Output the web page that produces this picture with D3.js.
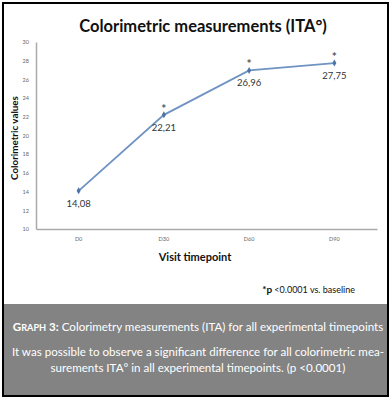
<!DOCTYPE html>
<html><head><meta charset="utf-8">
<script src="https://cdn.jsdelivr.net/npm/d3@7"></script>
<style>body{margin:0;background:#fff}svg{display:block}</style>
</head><body>
<svg id="c" width="392" height="397"></svg>
<script>
const categories = ["D0", "D30", "D60", "D90"];
const values = [14.08, 22.21, 26.96, 27.75];
const valueLabels = ["14,08", "22,21", "26,96", "27,75"];
const significant = [false, true, true, true];
const yTicks = [10, 12, 14, 16, 18, 20, 22, 24, 26, 28, 30];
const title = "Colorimetric measurements (ITA°)";
const xTitle = "Visit timepoint";
const yTitle = "Colorimetric values";
const captionLines = ["It was possible to observe a significant difference for all colorimetric mea-",
  "surements ITA° in all experimental timepoints. (p <0.0001)"];

const font = "Lato, 'Open Sans', sans-serif";
const svg = d3.select("#c");

// frame
svg.append("rect").attr("x", 3).attr("y", 3).attr("width", 385).attr("height", 393)
  .attr("fill", "#fff").attr("stroke", "#000").attr("stroke-width", 2);
svg.append("rect").attr("x", 4).attr("y", 304).attr("width", 383).attr("height", 91)
  .attr("fill", "#838383");

const x = d3.scaleBand().domain(categories).range([36, 377]);
const y = d3.scaleLinear().domain([10, 30]).range([229, 42]);

// title
svg.append("text").attr("x", 203).attr("y", 32).attr("text-anchor", "middle")
  .attr("font-family", font).attr("font-weight", "bold").attr("font-size", 16.5)
  .attr("fill", "#111").text(title);

// y axis
const ya = svg.append("g").attr("transform", "translate(36,0)")
  .call(d3.axisLeft(y).tickValues(yTicks).tickSize(0).tickPadding(7));
ya.select(".domain").attr("stroke", "#aaa").attr("stroke-width", 1.5);
ya.selectAll("text").attr("font-family", font).attr("font-size", 5.5).attr("fill", "#666");

// x axis
const xa = svg.append("g").attr("transform", "translate(0,229)")
  .call(d3.axisBottom(x).tickSize(0).tickPadding(8));
xa.select(".domain").attr("stroke", "#aaa").attr("stroke-width", 1.5);
xa.selectAll("text").attr("font-family", font).attr("font-size", 5.5).attr("fill", "#666");

// axis titles
svg.append("text").attr("transform", "translate(18,138) rotate(-90)").attr("text-anchor", "middle")
  .attr("font-family", font).attr("font-weight", "bold").attr("font-size", 9.8).attr("fill", "#111")
  .text(yTitle);
svg.append("text").attr("x", 195).attr("y", 261).attr("text-anchor", "middle")
  .attr("font-family", font).attr("font-weight", "bold").attr("font-size", 11).attr("fill", "#111")
  .text(xTitle);

const cx = d => x(d) + x.bandwidth() / 2;
const pts = categories.map((c, i) => ({c, v: values[i], l: valueLabels[i], s: significant[i]}));

svg.append("path").datum(pts)
  .attr("d", d3.line().x(d => cx(d.c)).y(d => y(d.v)))
  .attr("fill", "none").attr("stroke", "#6f93c2").attr("stroke-width", 1.8);

svg.selectAll(".m").data(pts).join("path")
  .attr("transform", d => `translate(${cx(d.c)},${y(d.v)})`)
  .attr("d", d3.symbol(d3.symbolDiamond, 14)).attr("fill", "#4d74a8");

svg.selectAll(".vl").data(pts).join("text")
  .attr("x", d => cx(d.c)).attr("y", d => y(d.v) + 16).attr("text-anchor", "middle")
  .attr("font-family", font).attr("font-size", 9.5).attr("fill", "#333").text(d => d.l);

svg.selectAll(".st").data(pts.filter(d => d.s)).join("text")
  .attr("x", d => cx(d.c)).attr("y", d => y(d.v) - 2).attr("text-anchor", "middle")
  .attr("font-family", font).attr("font-weight", "bold").attr("font-size", 12).attr("fill", "#555").text("*");

// footnote
const fn = svg.append("text").attr("x", 355).attr("y", 293).attr("text-anchor", "end")
  .attr("font-family", font).attr("font-size", 9).attr("fill", "#111");
fn.append("tspan").attr("font-weight", "bold").attr("font-size", 10).text("*p");
fn.append("tspan").text(" <0.0001 vs. baseline");

// caption
const cap = svg.append("text").attr("x", 198).attr("y", 331).attr("text-anchor", "middle")
  .attr("font-family", font).attr("font-size", 11.6).attr("fill", "#fff");
cap.append("tspan").attr("font-weight", "bold").text("G");
cap.append("tspan").attr("font-weight", "bold").attr("font-size", 9.2).text("RAPH");
cap.append("tspan").attr("font-weight", "bold").text(" 3:");
cap.append("tspan").text(" Colorimetry measurements (ITA) for all experimental timepoints");

captionLines.forEach((t, i) => {
  svg.append("text").attr("x", 198).attr("y", 356 + i * 16).attr("text-anchor", "middle")
    .attr("font-family", font).attr("font-size", 11.6).attr("fill", "#fff").text(t);
});
</script>
</body></html>
